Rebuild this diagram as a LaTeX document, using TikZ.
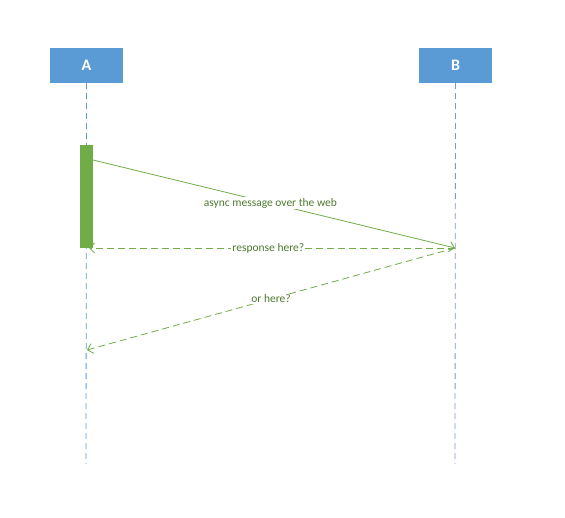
\documentclass[tikz,border=0pt]{standalone}
\usepackage{fontspec}
\setmainfont{Carlito}
\usetikzlibrary{arrows.meta}
\definecolor{boxblue}{HTML}{5B9BD5}
\definecolor{linegray}{HTML}{7F9BBF}
\definecolor{barGreen}{HTML}{70AD47}
\definecolor{textGreen}{HTML}{4E7A30}

\begin{document}
\begin{tikzpicture}[x=1pt, y=-1pt,
	actor/.style={fill=boxblue, minimum width=73pt, minimum height=35pt, inner sep=0pt, text=white, font=\fontsize{16}{18}\selectfont\bfseries},
	msg/.style={barGreen, line width=0.8pt, -{Straight Barb[length=5pt, width=10pt]}},
	msglabel/.style={fill=white, text=textGreen, inner sep=1pt, font=\fontsize{11.5}{13}\selectfont}]

	\useasboundingbox (0,0) rectangle (565,518);

	% the two participants
	\node[actor] (A) at (86.5,65.5) {A};
	\node[actor] (B) at (455.5,65.5) {B};

	% lifelines
	\coordinate (A end) at (86,464);
	\coordinate (B end) at (455,464);
	\draw[boxblue, line width=0.8pt, dash pattern=on 6pt off 4pt] (A.south) -- (A end);
	\draw[linegray, line width=0.8pt, dash pattern=on 6pt off 4pt] (B.south) -- (B end);

	% activation bar on A
	\node[fill=barGreen, minimum width=13pt, minimum height=103pt, inner sep=0pt] (bar) at (86.5,196.5) {};

	% messages
	\coordinate (send) at (93,160);
	\coordinate (recv) at (455,248);
	\coordinate (back) at (89,248);
	\coordinate (late) at (87,350);

	\draw[msg] (send) -- (recv) node[msglabel, pos=0.49] {async message over the web};
	\draw[msg, dash pattern=on 7pt off 4pt] (recv) -- (back) node[msglabel, pos=0.51] {response here?};
	\draw[msg, dash pattern=on 7pt off 4pt] (recv) -- (late) node[msglabel, pos=0.5] {or here?};

\end{tikzpicture}
\end{document}
